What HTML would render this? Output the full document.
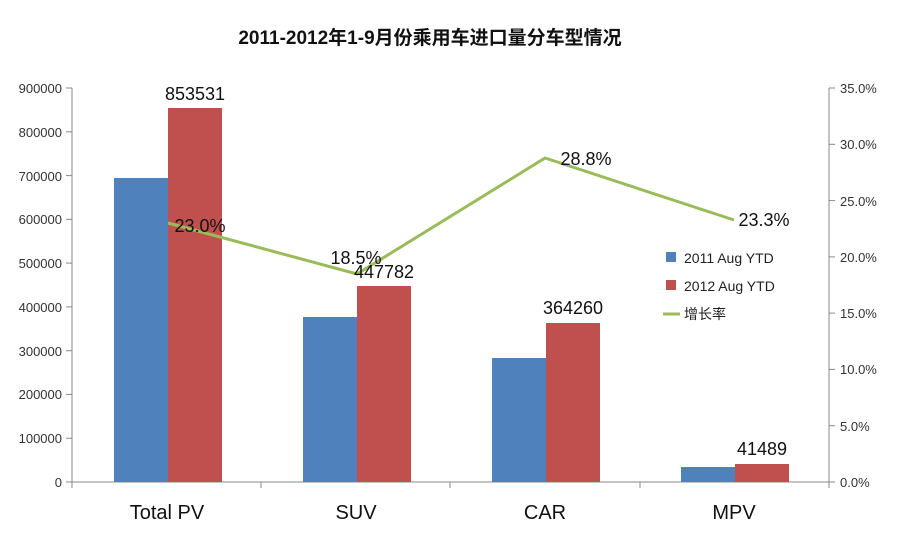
<!DOCTYPE html>
<html><head><meta charset="utf-8"><style>
body{margin:0;background:#fff;}
</style></head><body>
<svg width="907" height="529" xmlns="http://www.w3.org/2000/svg" font-family="Liberation Sans, Noto Sans CJK SC, sans-serif">
<rect width="907" height="529" fill="#fff"/>
<text x="430" y="44" text-anchor="middle" font-size="19" font-weight="bold" fill="#111">2011-2012年1-9月份乘用车进口量分车型情况</text>
<!-- axes -->
<g stroke="#888" stroke-width="1">
<line x1="72" y1="88" x2="72" y2="482"/>
<line x1="829" y1="88" x2="829" y2="482"/>
<line x1="72" y1="482" x2="829" y2="482"/>
<line x1="66" y1="88" x2="72" y2="88"/><line x1="66" y1="131.8" x2="72" y2="131.8"/><line x1="66" y1="175.6" x2="72" y2="175.6"/><line x1="66" y1="219.3" x2="72" y2="219.3"/><line x1="66" y1="263.1" x2="72" y2="263.1"/><line x1="66" y1="306.9" x2="72" y2="306.9"/><line x1="66" y1="350.7" x2="72" y2="350.7"/><line x1="66" y1="394.4" x2="72" y2="394.4"/><line x1="66" y1="438.2" x2="72" y2="438.2"/><line x1="66" y1="482" x2="72" y2="482"/>
<line x1="829" y1="88" x2="835" y2="88"/><line x1="829" y1="144.3" x2="835" y2="144.3"/><line x1="829" y1="200.6" x2="835" y2="200.6"/><line x1="829" y1="256.9" x2="835" y2="256.9"/><line x1="829" y1="313.1" x2="835" y2="313.1"/><line x1="829" y1="369.4" x2="835" y2="369.4"/><line x1="829" y1="425.7" x2="835" y2="425.7"/><line x1="829" y1="482" x2="835" y2="482"/>
<line x1="72" y1="482" x2="72" y2="488"/><line x1="261" y1="482" x2="261" y2="488"/><line x1="450" y1="482" x2="450" y2="488"/><line x1="640" y1="482" x2="640" y2="488"/><line x1="829" y1="482" x2="829" y2="488"/>
</g>
<g font-size="13" fill="#333" text-anchor="end">
<text x="62" y="93">900000</text><text x="62" y="137">800000</text><text x="62" y="181">700000</text><text x="62" y="224">600000</text><text x="62" y="268">500000</text><text x="62" y="312">400000</text><text x="62" y="356">300000</text><text x="62" y="399">200000</text><text x="62" y="443">100000</text><text x="62" y="487">0</text>
</g>
<g font-size="13" fill="#333">
<text x="840" y="93">35.0%</text><text x="840" y="149">30.0%</text><text x="840" y="206">25.0%</text><text x="840" y="262">20.0%</text><text x="840" y="318">15.0%</text><text x="840" y="374">10.0%</text><text x="840" y="431">5.0%</text><text x="840" y="487">0.0%</text>
</g>
<!-- bars -->
<g fill="#4f81bd">
<rect x="114" y="178" width="54" height="304"/>
<rect x="303" y="317" width="54" height="165"/>
<rect x="492" y="358" width="54" height="124"/>
<rect x="681" y="467" width="54" height="15"/>
</g>
<g fill="#c0504d">
<rect x="168" y="108" width="54" height="374"/>
<rect x="357" y="286" width="54" height="196"/>
<rect x="546" y="323" width="54" height="159"/>
<rect x="735" y="464" width="54" height="18"/>
</g>
<polyline points="168,223 357,274 545,158 734,220" fill="none" stroke="#9bbb59" stroke-width="3"/>
<g font-size="18" fill="#111" text-anchor="middle">
<text x="195" y="100">853531</text>
<text x="384" y="278">447782</text>
<text x="573" y="314">364260</text>
<text x="762" y="455">41489</text>
<text x="200" y="232">23.0%</text>
<text x="356" y="264">18.5%</text>
<text x="586" y="165">28.8%</text>
<text x="764" y="226">23.3%</text>
</g>
<g font-size="20" fill="#111" text-anchor="middle">
<text x="167" y="519">Total PV</text>
<text x="356" y="519">SUV</text>
<text x="545" y="519">CAR</text>
<text x="734" y="519">MPV</text>
</g>
<!-- legend -->
<rect x="666" y="252" width="10" height="10" fill="#4f81bd"/>
<rect x="666" y="280" width="10" height="10" fill="#c0504d"/>
<line x1="663" y1="314" x2="680" y2="314" stroke="#9bbb59" stroke-width="3"/>
<g font-size="14" fill="#222">
<text x="684" y="263">2011 Aug YTD</text>
<text x="684" y="291">2012 Aug YTD</text>
<text x="684" y="319">增长率</text>
</g>
</svg>
</body></html>
